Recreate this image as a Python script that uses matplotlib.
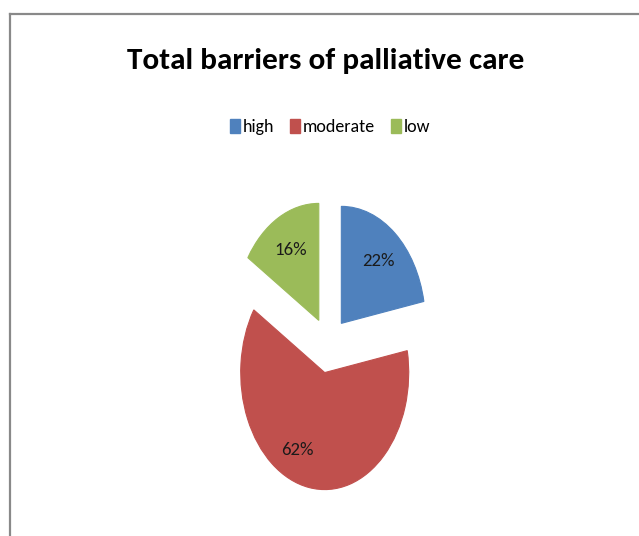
import matplotlib
matplotlib.use("Agg")
import matplotlib.pyplot as plt
from matplotlib.lines import Line2D
from matplotlib.patches import Rectangle

categories = ["high", "moderate", "low"]
shares = [22, 62, 16]
colors = ["#4F81BD", "#C0504D", "#9BBB59"]
explode = [0.24, 0.24, 0.24]
title = "Total barriers of palliative care"

W, H = 639, 536
fig = plt.figure(figsize=(W / 100, H / 100), dpi=100)
fig.patch.set_facecolor("white")

font = ["Carlito", "DejaVu Sans"]

# chart frame (top and left edges visible)
fig.add_artist(Line2D([9.5 / W, 9.5 / W], [0, 1 - 13.5 / H], color="#898989", lw=1.6,
                      solid_capstyle="projecting"))
fig.add_artist(Line2D([9.5 / W, 1], [1 - 13.5 / H, 1 - 13.5 / H], color="#898989", lw=1.6,
                      solid_capstyle="projecting"))

# pie axes: unit radius is 84 px wide, 117 px tall, centred at (328.5, 345)
cx, cy = 328.5, 345
rx, ry = 84, 117
xl, yl = 2.0, 1.6
ax = fig.add_axes([(cx - xl * rx) / W, (H - cy - yl * ry) / H,
                   2 * xl * rx / W, 2 * yl * ry / H])
wedges, texts, autotexts = ax.pie(
    shares, colors=colors, explode=explode, startangle=90, counterclock=False,
    autopct=lambda p: f"{p:.0f}%", pctdistance=0.69,
    wedgeprops=dict(linewidth=0.8),
    textprops=dict(fontsize=13.5, family=font, color="#1a1a1a"),
)
ax.set_aspect("auto")
ax.set_xlim(-xl, xl)
ax.set_ylim(-yl, yl)
ax.axis("off")
for w in wedges:
    w.set_edgecolor(w.get_facecolor())
# nudge the large slice's label towards the slice centroid
x, y = autotexts[1].get_position()
autotexts[1].set_position((x - 0.2, y + 0.02))

fig.text(326 / W, 1 - 61 / H, title, ha="center", va="center",
         fontsize=22.5, fontweight="bold", family=font, color="black")

handles = [Rectangle((0, 0), 1, 1, facecolor=c, edgecolor=c) for c in colors]
fig.legend(handles, categories, loc="center", bbox_to_anchor=(330 / W, 1 - 127 / H),
           ncol=3, frameon=False, prop=dict(family=font, size=13),
           handlelength=0.55, handleheight=0.8, handletextpad=0.15, columnspacing=0.9)

fig.savefig("out.png", dpi=100)
